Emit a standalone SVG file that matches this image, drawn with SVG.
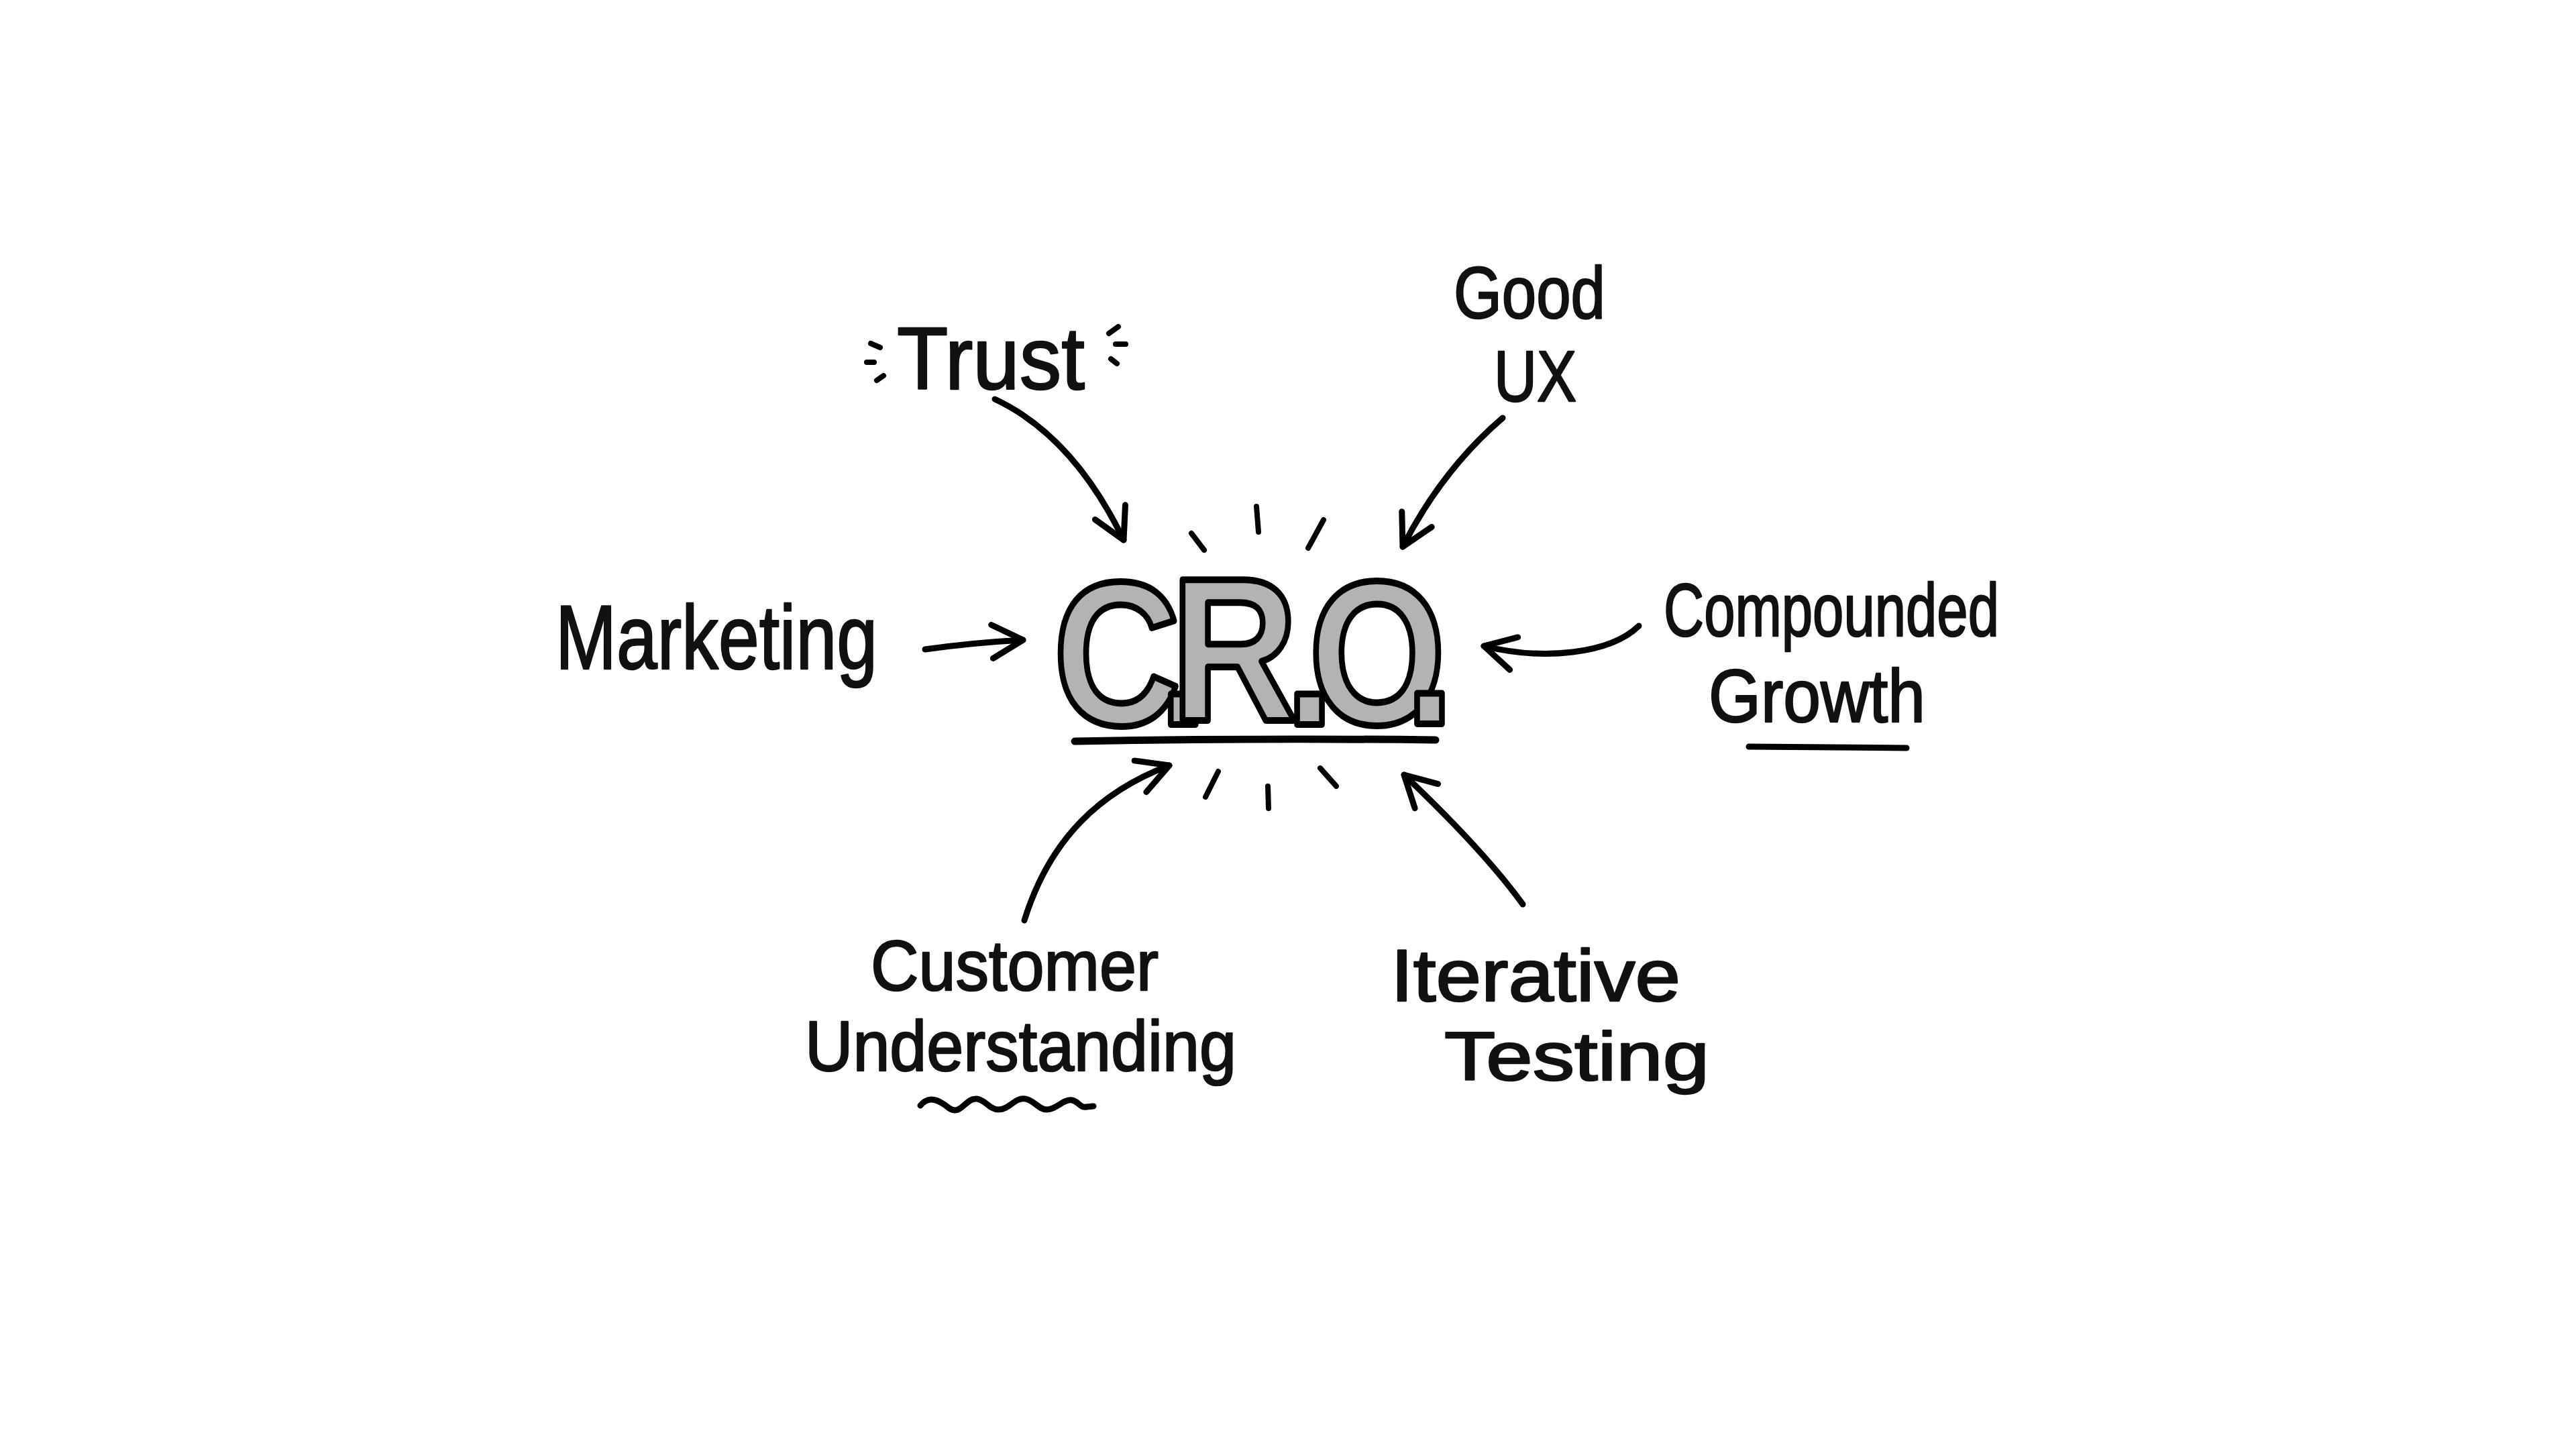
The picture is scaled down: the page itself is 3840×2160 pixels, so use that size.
<svg xmlns="http://www.w3.org/2000/svg" width="3840" height="2160" viewBox="0 0 3840 2160">
<defs>
<style>
.lbl{font-family:"Liberation Sans",Arial,sans-serif;fill:#111;stroke:#111;stroke-width:2.5;stroke-linejoin:round}
.cro{font-family:"Liberation Sans",Arial,sans-serif;font-weight:bold;fill:#b3b3b3;stroke:#000;stroke-width:10;stroke-linejoin:round}
.ln{fill:none;stroke:#000;stroke-width:9;stroke-linecap:round;stroke-linejoin:round}
.ray{fill:none;stroke:#000;stroke-width:8;stroke-linecap:round}
</style>
<marker id="ah" markerUnits="userSpaceOnUse" orient="auto" overflow="visible" markerWidth="1" markerHeight="1" refX="0" refY="0">
<path d="M-46,-25 L0,0 L-46,25" fill="none" stroke="#000" stroke-width="9" stroke-linecap="round" stroke-linejoin="round"/>
</marker>
</defs>
<rect width="3840" height="2160" fill="#fff"/>

<g id="node-cro">
<g id="cro-rays">
<line class="ray" x1="1776" y1="795" x2="1795" y2="820"/>
<line class="ray" x1="1873" y1="755" x2="1876" y2="793"/>
<line class="ray" x1="1973" y1="775" x2="1950" y2="817"/>
<line class="ray" x1="1816" y1="1150" x2="1797" y2="1188"/>
<line class="ray" x1="1890" y1="1172" x2="1891" y2="1205"/>
<line class="ray" x1="1968" y1="1145" x2="1992" y2="1172"/>
</g>
<text class="cro" transform="scale(0.86,1)" text-anchor="middle" font-size="305" x="1936 2051 2139.5 2270 2387.2 2478" y="1080 1080 1074 1080 1079 1079">C.R.O.</text>
<path class="ln" style="stroke-width:11" d="M1602,1105 Q1870,1100 2140,1103"/>
</g>

<g id="node-trust">
<g id="trust-sparkles">
<line class="ray" x1="1298" y1="512" x2="1312" y2="518"/>
<line class="ray" x1="1292" y1="540" x2="1303" y2="540"/>
<line class="ray" x1="1307" y1="567" x2="1317" y2="560"/>
<line class="ray" x1="1653" y1="497" x2="1667" y2="487"/>
<line class="ray" x1="1663" y1="513" x2="1678" y2="513"/>
<line class="ray" x1="1656" y1="535" x2="1665" y2="542"/>
</g>
<text class="lbl" x="1337" y="580" font-size="132" textLength="280" lengthAdjust="spacingAndGlyphs">Trust</text>
</g>

<g id="node-goodux">
<text class="lbl" x="2167" y="474" font-size="110" textLength="226" lengthAdjust="spacingAndGlyphs">Good</text>
<text class="lbl" x="2227" y="598" font-size="108" textLength="123" lengthAdjust="spacingAndGlyphs">UX</text>
</g>

<g id="node-marketing">
<text class="lbl" x="828" y="997" font-size="135" textLength="480" lengthAdjust="spacingAndGlyphs">Marketing</text>
</g>

<g id="node-compounded">
<text class="lbl" x="2480" y="948" font-size="112" textLength="500" lengthAdjust="spacingAndGlyphs">Compounded</text>
<text class="lbl" x="2547" y="1076" font-size="112" textLength="323" lengthAdjust="spacingAndGlyphs">Growth</text>
<path class="ln" d="M2607,1113 L2842,1115"/>
</g>

<g id="node-customer">
<text class="lbl" x="1298" y="1476" font-size="106" textLength="429" lengthAdjust="spacingAndGlyphs">Customer</text>
<text class="lbl" x="1200" y="1596" font-size="106" textLength="643" lengthAdjust="spacingAndGlyphs">Understanding</text>
<path class="ln" d="M1372,1648 C1385,1632 1400,1640 1415,1652 C1432,1664 1440,1636 1456,1638 C1470,1640 1475,1654 1488,1654 C1505,1654 1512,1636 1528,1638 C1542,1640 1548,1654 1560,1654 C1575,1654 1585,1638 1598,1640 C1608,1642 1610,1652 1620,1650 L1630,1649"/>
</g>

<g id="node-iterative">
<text class="lbl" x="2073" y="1492" font-size="110" textLength="432" lengthAdjust="spacingAndGlyphs">Iterative</text>
<text class="lbl" x="2153" y="1610" font-size="102" textLength="395" lengthAdjust="spacingAndGlyphs">Testing</text>
</g>

<g id="connectors">
<path class="ln" marker-end="url(#ah)" d="M1483,595 Q1600,650 1675,805"/>
<path class="ln" marker-end="url(#ah)" d="M2240,623 Q2150,700 2091,815"/>
<path class="ln" marker-end="url(#ah)" d="M1379,968 Q1450,958 1525,954"/>
<path class="ln" marker-end="url(#ah)" d="M2443,933 C2400,975 2300,985 2212,963"/>
<path class="ln" marker-end="url(#ah)" d="M1527,1372 C1565,1250 1640,1180 1743,1141"/>
<path class="ln" marker-end="url(#ah)" d="M2270,1348 Q2212,1268 2093,1155"/>
</g>
</svg>
